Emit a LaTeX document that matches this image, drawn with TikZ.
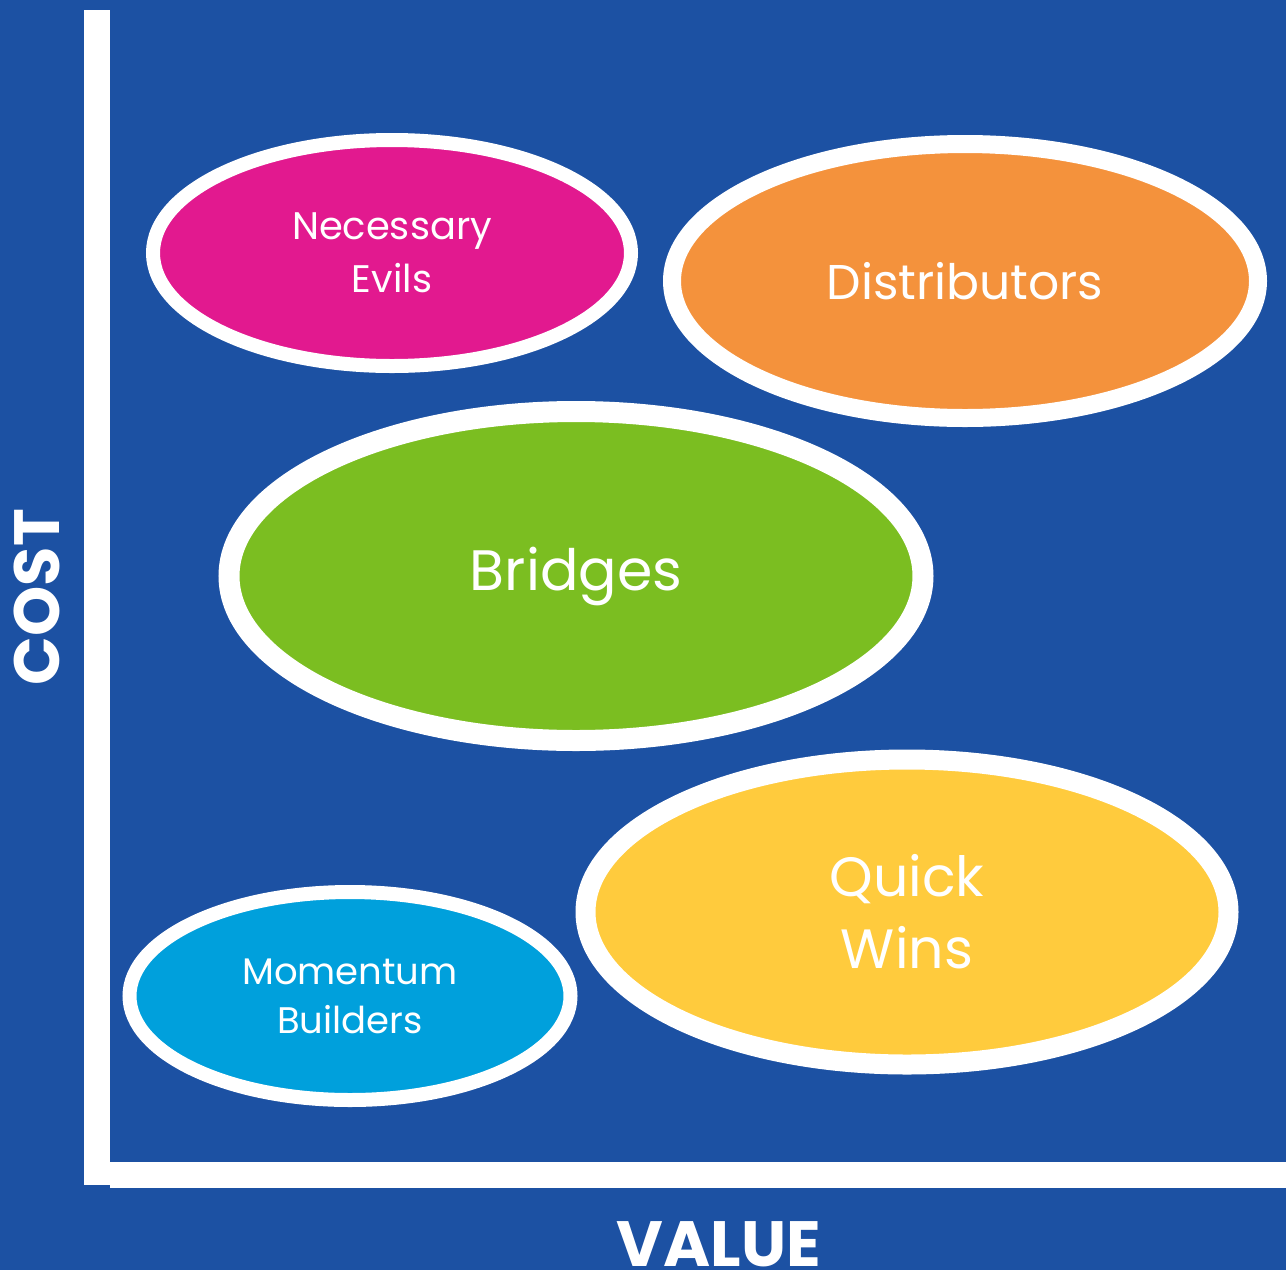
\documentclass[tikz,border=0pt]{standalone}
\usepackage{fontspec}
\setmainfont{Poppins}
\usepackage{tikz}
\usetikzlibrary{shapes.geometric}
\usepackage{xcolor}

\definecolor{bgblue}{HTML}{1C51A3}
\definecolor{evilpink}{HTML}{E2198F}
\definecolor{distorange}{HTML}{F4923C}
\definecolor{bridgegreen}{HTML}{7BBE21}
\definecolor{winyellow}{HTML}{FFCB3D}
\definecolor{momcyan}{HTML}{00A0DC}

\begin{document}
\begin{tikzpicture}[
        x=0.5pt, y=-0.5pt,
        blob/.style={ellipse, draw=white, inner sep=0pt, text=white, align=center},
        axislabel/.style={text=white, font=\bfseries\fontsize{32}{36}\selectfont, inner sep=0pt}
    ]
        % Background and frame
        \fill[bgblue] (0,0) rectangle (1286,1270);
        \useasboundingbox (0,0) rectangle (1286,1270);

        % Axes
        \fill[white] (84,10) rectangle (110,1185);
        \fill[white] (110,1162) rectangle (1286,1188);

        % Nodes
        \node (evils) [blob, fill=evilpink, line width=7pt, minimum width=239pt, minimum height=113pt,
            font=\fontsize{19.2}{26.5}\selectfont] at (392,253) {Necessary\\Evils};
        \node (distributors) [blob, fill=distorange, line width=9pt, minimum width=293pt, minimum height=137pt,
            font=\fontsize{24.4}{28}\selectfont] at (965,281) {Distributors};
        \node (bridges) [blob, fill=bridgegreen, line width=10.5pt, minimum width=347pt, minimum height=164.5pt,
            font=\fontsize{28.5}{32}\selectfont] at (576,576) {Bridges};
        \node (quickwins) [blob, fill=winyellow, line width=10pt, minimum width=321.5pt, minimum height=152.5pt,
            font=\fontsize{27.7}{36}\selectfont] at (907,912) {Quick\\Wins};
        \node (momentum) [blob, fill=momcyan, line width=7pt, minimum width=220.5pt, minimum height=104pt,
            font=\fontsize{18.5}{24.5}\selectfont] at (350,996) {Momentum\\Builders};

        % Axis labels
        \node (cost) [axislabel, rotate=90, anchor=base] at (60,597) {COST};
        \node (value) [axislabel, anchor=base] at (719,1266) {VALUE};
    \end{tikzpicture}
\end{document}
